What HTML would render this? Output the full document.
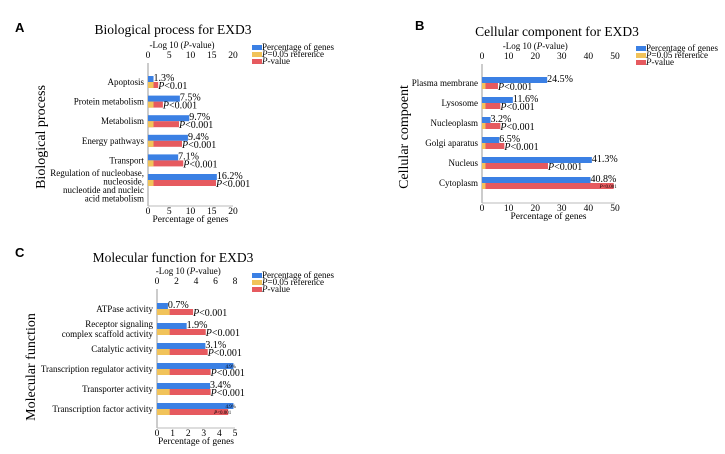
<!DOCTYPE html>
<html><head><meta charset="utf-8"><style>
body{margin:0;background:#fff;}
svg{display:block;font-family:"Liberation Serif",serif;}
.pl{font-family:"Liberation Sans",sans-serif;font-weight:bold;font-size:13px;}
</style></head><body>
<svg id="svg" width="725" height="454" viewBox="0 0 725 454" xmlns="http://www.w3.org/2000/svg"></svg>
<script>
// Panel A data
const catsA = ["Apoptosis","Protein metabolism","Metabolism","Energy pathways","Transport","Regulation of nucleobase,|nucleoside,|nucleotide and nucleic|acid metabolism"];
const pctA = [1.3,7.5,9.7,9.4,7.1,16.2];
const logpA = [2.4,3.5,7.3,8.0,8.3,16.0];
const sigA = ["P<0.01","P<0.001","P<0.001","P<0.001","P<0.001","P<0.001"];
const ticksA = [0,5,10,15,20];
// Panel B data
const catsB = ["Plasma membrane","Lysosome","Nucleoplasm","Golgi aparatus","Nucleus","Cytoplasm"];
const pctB = [24.5,11.6,3.2,6.5,41.3,40.8];
const logpB = [6.0,6.9,6.9,8.4,24.8,49.5];
const sigB = ["P<0.001","P<0.001","P<0.001","P<0.001","P<0.001","P<0.001"];
const ticksB = [0,10,20,30,40,50];
// Panel C data
const catsC = ["ATPase activity","Receptor signaling|complex scaffold activity","Catalytic activity","Transcription regulator activity","Transporter activity","Transcription factor activity"];
const pctC = [0.7,1.9,3.1,4.9,3.4,4.9];
const logpC = [3.7,5.0,5.2,5.5,5.5,7.3];
const sigC = ["P<0.001","P<0.001","P<0.001","P<0.001","P<0.001","P<0.001"];
const ticksCtop = [0,2,4,6,8];
const ticksCbot = [0,1,2,3,4,5];
const refLog = 1.3;

const NS="http://www.w3.org/2000/svg";
const svg=document.getElementById('svg');
function mk(tag,attrs,parent,text){const e=document.createElementNS(NS,tag);for(const k in attrs)e.setAttribute(k,attrs[k]);if(text!==undefined)e.textContent=text;(parent||svg).appendChild(e);return e;}
const BLUE="#3b80e4",YEL="#f1c35a",RED="#e65a5f";

function panel(o){
  const g=mk('g',{});
  
  
  const sxT=v=>o.x0+v/o.topMax*o.w;
  const sxB=v=>o.x0+v/o.botMax*o.w;
  const lbl=mk('text',{x:o.lx,y:o.ly,class:'pl'},g,o.letter);
  
  
  const t=mk('text',{x:o.tx,y:o.ty,'text-anchor':'middle','font-size':13.5},g,o.title);
  
  
  const tt=mk('text',{x:o.x0+o.w*0.4,y:o.topY-10,'text-anchor':'middle','font-size':9},g);
  
  
  mk('tspan',{},tt,'-Log 10 (');mk('tspan',{'font-style':'italic'},tt,'P');mk('tspan',{},tt,'-value)');
  o.topTicks.forEach(v=>{const e=mk('text',{x:sxT(v),y:o.topY,'text-anchor':'middle','font-size':9.5},g,v);
    });
  const ya=mk('line',{x1:o.x0,y1:o.topY+5,x2:o.x0,y2:o.botY,stroke:'#999','stroke-width':1},g);
  
  const xa=mk('line',{x1:o.x0,y1:o.botY,x2:o.x0+o.w,y2:o.botY,stroke:'#bbb','stroke-width':1},g);
  
  o.botTicks.forEach(v=>{const e=mk('text',{x:sxB(v),y:o.botY+8,'text-anchor':'middle','font-size':9.5},g,v);
    });
  const bt=mk('text',{x:o.x0+o.w/2,y:o.botY+16,'text-anchor':'middle','font-size':9.5},g,'Percentage of genes');
  
  const yt=mk('text',{x:o.ytx,y:o.yty,'text-anchor':'middle','font-size':14,transform:`rotate(-90 ${o.ytx} ${o.yty})`},g,o.ytitle);
  
  const leg=[["Percentage of genes",BLUE],["P=0.05 reference",YEL],["P-value",RED]];
  leg.forEach((l,i)=>{const y=o.legY+i*7;
    const r=mk('rect',{x:o.legX,y:y-5,width:10,height:5,fill:l[1]},g);
    
    const tx=mk('text',{x:o.legX+10,y:y,'font-size':9},g);
    
    if(i===0)tx.textContent=l[0];else{mk('tspan',{'font-style':'italic'},tx,'P');mk('tspan',{},tx,l[0].slice(1));}
  });
  o.cats.forEach((c,i)=>{
    const cy=o.c0+i*o.step;
    const lines=c.split('|');
    const n=lines.length;
    const lh=n>2?8.5:10;
    const y0=n>2?cy-4:cy+3-(n-1)*lh/2;
    const ctext=mk('text',{x:o.x0-4,y:y0,'text-anchor':'end','font-size':9},g);
    
    lines.forEach((ln,j)=>mk('tspan',{x:o.x0-4,dy:j?lh:0},ctext,ln));
    const b=mk('rect',{x:o.x0,y:cy-6,width:sxB(o.pct[i])-o.x0,height:6,fill:BLUE},g);
    
    const r=mk('rect',{x:o.x0,y:cy,width:sxT(o.logp[i])-o.x0,height:6,fill:RED},g);
    
    const yb=mk('rect',{x:o.x0,y:cy,width:sxT(refLog)-o.x0,height:6,fill:YEL},g);
    
    const sp=o.smallPct&&o.smallPct.includes(i), ss=o.smallSig&&o.smallSig.includes(i);
    const pl=mk('text',{x:sxB(o.pct[i])+(sp?-8:0),y:cy-1,'font-size':sp?5:10},g,o.pct[i].toFixed(1)+'%');
    
    const sl=mk('text',{x:sxT(o.logp[i])+(ss?-14:0),y:cy+(ss?5:7),'font-size':ss?5:10},g);
    
    mk('tspan',{'font-style':'italic'},sl,'P');mk('tspan',{},sl,o.sig[i].slice(1));
  });
}
panel({id:'biological-process',letter:'A',lx:15,ly:32,title:'Biological process for EXD3',tx:173,ty:34,
  x0:148,w:85,topMax:20,botMax:20,topY:58,botY:206,topTicks:ticksA,botTicks:ticksA,
  ytitle:'Biological process',ytx:45,yty:137,legX:252,legY:50,
  cats:catsA,pct:pctA,logp:logpA,sig:sigA,c0:82,step:19.6});
panel({id:'cellular-component',letter:'B',lx:415,ly:30,title:'Cellular component for EXD3',tx:557,ty:36,
  x0:482,w:133,topMax:50,botMax:50,topY:59,botY:203,topTicks:ticksB,botTicks:ticksB,
  ytitle:'Cellular compoent',ytx:408,yty:137,legX:636,legY:51,
  cats:catsB,pct:pctB,logp:logpB,sig:sigB,c0:83,step:20,smallSig:[5]});
panel({id:'molecular-function',letter:'C',lx:15,ly:257,title:'Molecular function for EXD3',tx:173,ty:262,
  x0:157,w:78,topMax:8,botMax:5,topY:284,botY:428,topTicks:ticksCtop,botTicks:ticksCbot,
  ytitle:'Molecular function',ytx:35,yty:367,legX:252,legY:278,
  cats:catsC,pct:pctC,logp:logpC,sig:sigC,c0:309,step:20,smallPct:[3,5],smallSig:[5]});
</script>
</body></html>
